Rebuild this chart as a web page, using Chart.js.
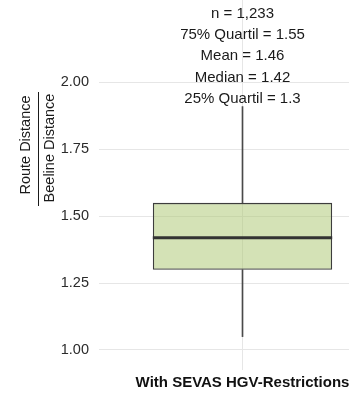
<!DOCTYPE html>
<html>
<head>
<meta charset="utf-8">
<script src="https://cdn.jsdelivr.net/npm/chart.js@4/dist/chart.umd.min.js"></script>
<style>
  html, body { margin: 0; padding: 0; background: #fff; overflow: hidden; }
  /* the panel runs on past the right edge of the view */
  #wrap { width: 386px; height: 394px; position: relative; }
</style>
</head>
<body>
<div id="wrap"><canvas id="c"></canvas></div>
<script>
// Route detour factor summary, one group
const categories = ['With SEVAS HGV-Restrictions'];
const sampleSize = [1233];
const lowerWhisker = [1.05];
const quartile25 = [1.30];
const medianValues = [1.42];
const meanValues = [1.46];
const quartile75 = [1.55];
const upperWhisker = [1.91];
const yTickValues = [1.00, 1.25, 1.50, 1.75, 2.00];
const yAxisTitle = ['Route Distance', 'Beeline Distance'];

const FONT = '"Liberation Sans", Arial, Helvetica, sans-serif';

const fmtStat = v => String(Number(v.toFixed(2)));
const statLines = i => [
  'n = ' + sampleSize[i].toLocaleString('en-US'),
  '75% Quartil = ' + fmtStat(quartile75[i]),
  'Mean = ' + fmtStat(meanValues[i]),
  'Median = ' + fmtStat(medianValues[i]),
  '25% Quartil = ' + fmtStat(quartile25[i])
];

// median bar, summary text and the fraction-style y title
const boxExtras = {
  id: 'boxExtras',
  afterDatasetsDraw(chart) {
    const ctx = chart.ctx;
    const y = chart.scales.y;
    const boxMeta = chart.getDatasetMeta(0);
    ctx.save();
    boxMeta.data.forEach((bar, i) => {
      const yp = y.getPixelForValue(medianValues[i]);
      ctx.strokeStyle = '#333333';
      ctx.lineWidth = 3;
      ctx.beginPath();
      ctx.moveTo(bar.x - bar.width / 2, yp);
      ctx.lineTo(bar.x + bar.width / 2, yp);
      ctx.stroke();
    });
    ctx.restore();
  },
  afterDraw(chart) {
    const ctx = chart.ctx;
    const x = chart.scales.x;
    const area = chart.chartArea;
    ctx.save();
    ctx.fillStyle = '#1a1a1a';
    ctx.font = '15px ' + FONT;
    ctx.textAlign = 'center';
    ctx.textBaseline = 'middle';
    categories.forEach((c, i) => {
      const cx = x.getPixelForValue(i);
      statLines(i).forEach((t, k) => {
        ctx.fillText(t, cx, area.top + 13.5 + k * 21.4);
      });
    });

    // y-axis title drawn as a fraction
    ctx.font = '14.5px ' + FONT;
    ctx.save();
    ctx.translate(26, 145);
    ctx.rotate(-Math.PI / 2);
    ctx.fillText(yAxisTitle[0], 0, 0);
    ctx.restore();
    ctx.save();
    ctx.translate(50, 148);
    ctx.rotate(-Math.PI / 2);
    ctx.fillText(yAxisTitle[1], 0, 0);
    ctx.restore();
    ctx.strokeStyle = '#1a1a1a';
    ctx.lineWidth = 1;
    ctx.beginPath();
    ctx.moveTo(38.5, 92);
    ctx.lineTo(38.5, 206);
    ctx.stroke();
    ctx.restore();
  }
};

new Chart(document.getElementById('c'), {
  type: 'bar',
  data: {
    labels: categories,
    datasets: [
      {
        label: 'IQR',
        data: categories.map((c, i) => [quartile25[i], quartile75[i]]),
        backgroundColor: 'rgba(170,198,110,0.5)',
        borderColor: '#3d3d3d',
        borderWidth: 1.3,
        borderSkipped: false,
        grouped: false,
        barPercentage: 0.625,
        categoryPercentage: 1
      },
      {
        label: 'lower whisker',
        data: categories.map((c, i) => [lowerWhisker[i], quartile25[i]]),
        backgroundColor: '#4a4a4a',
        borderWidth: 0,
        grouped: false,
        barThickness: 1
      },
      {
        label: 'upper whisker',
        data: categories.map((c, i) => [quartile75[i], upperWhisker[i]]),
        backgroundColor: '#4a4a4a',
        borderWidth: 0,
        grouped: false,
        barThickness: 1
      }
    ]
  },
  options: {
    responsive: true,
    maintainAspectRatio: false,
    animation: false,
    layout: { padding: { left: 60, right: 0, top: 0, bottom: 0 } },
    plugins: { legend: { display: false }, tooltip: { enabled: false } },
    scales: {
      x: {
        offset: true,
        border: { display: false },
        grid: { color: '#e6e6e6', lineWidth: 1, drawTicks: false, offset: false },
        afterFit: s => { s.height = 24; s.paddingLeft = 0; s.paddingRight = 0; },
        ticks: {
          color: '#111111',
          padding: 4,
          font: { family: FONT, size: 15, weight: 'bold' }
        }
      },
      y: {
        min: 0.9252,
        max: 2.3084,
        border: { display: false },
        grid: { color: '#e6e6e6', lineWidth: 1, drawTicks: false },
        afterBuildTicks: s => { s.ticks = yTickValues.map(v => ({ value: v })); },
        afterFit: s => { s.width = 39; s.paddingTop = 0; s.paddingBottom = 0; },
        ticks: {
          color: '#2b2b2b',
          padding: 10,
          font: { family: FONT, size: 14.5 },
          callback: v => Number(v).toFixed(2)
        }
      }
    }
  },
  plugins: [boxExtras]
});
</script>
</body>
</html>
